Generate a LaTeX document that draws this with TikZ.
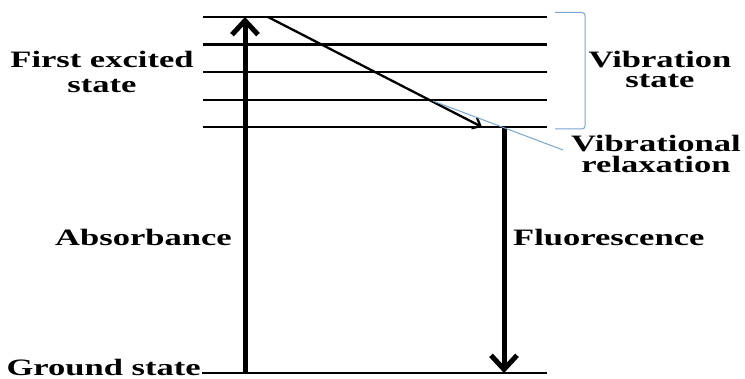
\documentclass[tikz,border=0pt]{standalone}
\usepackage{fontspec}
\setmainfont{Liberation Serif}[FakeStretch=1.47]
\usetikzlibrary{arrows.meta}
\definecolor{leaderblue}{RGB}{120,165,210}
\tikzset{
  lbl/.style={font=\bfseries\fontsize{23.5}{25}\selectfont, inner sep=0pt, anchor=base, text height=16pt, text depth=0pt},
  level/.style={line width=2.4pt},
  bigarrow/.style={line width=5pt, -{Straight Barb[length=14pt,width=26pt]}},
  smallarrow/.style={line width=2.3pt, -{Straight Barb[length=7pt,width=12pt]}},
  leader/.style={leaderblue, line width=1pt}
}
\begin{document}
\begin{tikzpicture}[x=1pt,y=-1pt]
\useasboundingbox (0,0) rectangle (745,379);
% level coordinates
\foreach \i/\y in {1/17,2/44.5,3/72,4/100,5/127}{
  \coordinate (l\i w) at (203,\y);
  \coordinate (l\i e) at (547,\y);
  \draw[level] (l\i w) -- (l\i e);
}
% ground state
\node[lbl, anchor=base east] (gs) at (201,376) {Ground state};
\coordinate (gw) at (202,373);
\coordinate (ge) at (547,373);
\draw[level] (gw) -- (ge);
% arrows
\coordinate (abot) at (245,373);
\coordinate (atop) at (245,17);
\draw[bigarrow] (abot) -- (atop);
\coordinate (ftop) at (504,127);
\coordinate (fbot) at (504,373);
\draw[bigarrow] (ftop) -- (fbot);
\coordinate (ds) at (268,17);
\coordinate (de) at (482,127);
\draw[smallarrow] (ds) -- (de);
% bracket
\coordinate (b1) at (555,12.5);
\coordinate (b2) at (585,12.5);
\coordinate (b3) at (585,129);
\coordinate (b4) at (555,129);
\draw[leader, rounded corners=3pt] (b1) -- (b2) -- (b3) -- (b4);
% leader line
\coordinate (r1) at (433,101);
\coordinate (r2) at (563,150);
\draw[leader] (r1) -- (r2);
% labels
\node[lbl] (fe1) at (102,68) {First excited};
\node[lbl] (fe2) at (102,93) {state};
\node[lbl] (vs1) at (660,68) {Vibration};
\node[lbl] (vs2) at (660,88) {state};
\node[lbl] (vr1) at (656,152) {Vibrational};
\node[lbl] (vr2) at (656,173) {relaxation};
\node[lbl, anchor=base west] (ab) at (55,246) {Absorbance};
\node[lbl, anchor=base west] (fl) at (513,246) {Fluorescence};
\end{tikzpicture}
\end{document}
